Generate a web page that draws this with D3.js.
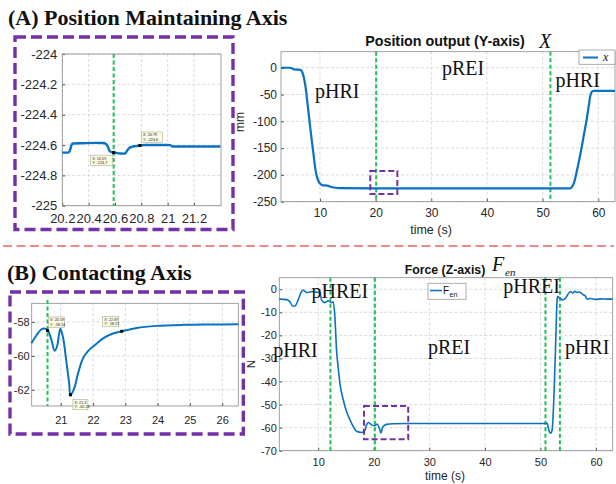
<!DOCTYPE html>
<html><head><meta charset="utf-8">
<script src="https://cdn.jsdelivr.net/npm/d3@7"></script>
<style>body{margin:0;background:#fff} svg{display:block}</style>
</head><body>
<svg id="c" width="616" height="484"></svg>
<script>
// ---------- data ----------
const sectionTitles = ["(A) Position Maintaining Axis", "(B) Contacting Axis"];

// Position output (Y-axis), main chart
const posTime  = [3, 4.4, 5.0, 5.3, 6.0, 6.5, 6.8, 7.1, 7.4, 7.8, 8.3, 8.8, 9.2, 9.5, 9.8, 10.1, 10.4, 11.3, 12.2, 13.4, 20, 30, 40, 50, 55.0, 55.3, 55.6, 56.2, 56.8, 57.4, 58.0, 58.3, 58.6, 58.9, 59.2, 61, 63];
const posValue = [0, 0, -1, -3, -3.5, -4, -7.5, -18, -35, -70, -116, -158, -191, -205, -213, -217, -219, -220, -223, -224.5, -225, -225, -225, -225, -225, -222, -216, -190, -160, -126, -91, -70, -51, -44, -43, -43, -43];
const posXTicks = [10, 20, 30, 40, 50, 60];
const posYTicks = [0, -50, -100, -150, -200, -250];
const posPhaseLines = [20.1, 51.4];
const posPhaseNames = ["pHRI", "pREI", "pHRI"];

// Position inset (zoom)
const posZoomTime  = [20.2, 20.246, 20.26, 20.27, 20.28, 20.35, 20.45, 20.51, 20.53, 20.545, 20.56, 20.58, 20.61, 20.64, 20.676, 20.69, 20.71, 20.727, 20.76, 20.79, 20.83, 20.9, 21.0, 21.02, 21.03, 21.05, 21.2, 21.4];
const posZoomValue = [-224.65, -224.65, -224.63, -224.6, -224.59, -224.588, -224.586, -224.587, -224.592, -224.61, -224.64, -224.648, -224.652, -224.656, -224.657, -224.64, -224.618, -224.612, -224.607, -224.603, -224.6, -224.6, -224.6, -224.601, -224.607, -224.61, -224.61, -224.61];
const posZoomXTicks = [20.2, 20.4, 20.6, 20.8, 21, 21.2];
const posZoomYTicks = [-224, -224.2, -224.4, -224.6, -224.8, -225];
const posZoomTips = [[20.59, -224.65, "X: 20.59", "Y: -224.7"], [20.79, -224.603, "X: 20.79", "Y: -224.6"]];

// Force (Z-axis), main chart
const forceTime  = [3, 4.3, 4.9, 5.4, 5.8, 6.4, 7.0, 7.3, 7.9, 8.5, 9.1, 9.7, 10.3, 10.6, 11.2, 11.8, 12.4, 12.7, 13.0, 13.3, 13.6, 13.9, 14.5, 15.1, 16.0, 16.9, 17.8, 18.4, 18.7, 19.0, 19.6, 20.2, 20.6, 21.0, 21.3, 21.6, 22.3, 23.5, 26, 30, 40, 50.9, 51.2, 51.5, 51.8, 52.1, 52.4, 52.7, 53.0, 53.1, 53.5, 53.9, 54.5, 55.0, 55.4, 55.8, 56.2, 56.6, 57.0, 57.4, 57.8, 58.1, 58.4, 59, 60, 61, 62, 63];
const forceValue = [-4.3, -4.5, -5.4, -7.3, -7.3, -4.6, -1, -0.3, -1.4, -1.2, -1, -1.3, -1.4, -4.6, -5.8, -5.0, -5.8, -5.4, -11.8, -26.3, -34, -40.7, -47.9, -53, -58, -61.6, -62.1, -61.2, -58.8, -57.8, -58.8, -59.2, -58.4, -60.3, -62.3, -59.8, -58.6, -58.3, -58.2, -58.2, -58.2, -58.2, -58.1, -61, -62.4, -61, -47.9, -26.3, -4.6, -3.2, -3.8, -4.6, -3.9, -2.0, -1.0, -1.6, -0.9, -1.4, -1.2, -1.8, -2.5, -3.0, -4.3, -4.0, -4.4, -4.2, -4.3, -4.3];
const forceXTicks = [10, 20, 30, 40, 50, 60];
const forceYTicks = [0, -10, -20, -30, -40, -50, -60, -70];
const forcePhaseLines = [12.2, 20.2, 50.9, 53.5];
const forcePhaseNames = ["pHREI", "pHRI", "pREI", "pHREI", "pHRI"];

// Force inset (zoom)
const forceZoomTime  = [20.09, 20.25, 20.40, 20.50, 20.6, 20.71, 20.81, 20.89, 20.95, 20.99, 21.07, 21.18, 21.26, 21.30, 21.4, 21.54, 21.69, 21.85, 22.06, 22.31, 22.62, 22.89, 23.35, 23.97, 24.8, 25.6, 26.5];
const forceZoomValue = [-59.26, -58.78, -58.43, -58.38, -58.5, -59.05, -59.7, -59.4, -58.68, -58.4, -58.9, -60.43, -61.6, -62.29, -62.0, -61.0, -60.14, -59.7, -59.36, -58.97, -58.68, -58.55, -58.35, -58.23, -58.17, -58.15, -58.14];
const forceZoomXTicks = [21, 22, 23, 24, 25, 26];
const forceZoomYTicks = [-58, -60, -62];
const forceZoomTips = [[20.59, -58.5, "X: 20.59", "Y: -58.54"], [21.3, -62.29, "X: 21.3", "Y: -62.28"], [22.89, -58.55, "X: 22.87", "Y: -58.57"]];

// ---------- styles ----------
const BLUE = "#0a72c0", GREEN = "#1fbf5a", PURPLE = "#7232a6", AX = "#262626";
const SANS = "'Liberation Sans', Arial, sans-serif", SERIF = "'Liberation Serif', 'Times New Roman', serif";
const svg = d3.select("#c");
svg.append("rect").attr("width", 616).attr("height", 484).attr("fill", "#fff");

function drawPanel(o) {
  const g = svg.append("g");
  const x = d3.scaleLinear().domain(o.xDomain).range([o.left, o.right]);
  const y = d3.scaleLinear().domain(o.yDomain).range([o.bottom, o.top]);
  g.append("rect").attr("x", o.left).attr("y", o.top).attr("width", o.right - o.left).attr("height", o.bottom - o.top).attr("fill", "#fff");
  const grid = g.append("g").attr("stroke", "#d2d2d2").attr("stroke-width", 0.8).attr("stroke-dasharray", "3,2");
  grid.selectAll("line.gx").data(o.xTicks).join("line").attr("class", "gx")
    .attr("x1", d => x(d)).attr("x2", d => x(d)).attr("y1", o.top).attr("y2", o.bottom);
  grid.selectAll("line.gy").data(o.yTicks).join("line").attr("class", "gy")
    .attr("y1", d => y(d)).attr("y2", d => y(d)).attr("x1", o.left).attr("x2", o.right);
  const fmt = d => String(d);
  const ax = g.append("g").attr("transform", `translate(0,${o.bottom})`)
    .call(d3.axisBottom(x).tickValues(o.xTicks).tickFormat(fmt).tickSizeInner(-3).tickSizeOuter(0).tickPadding(o.xPad));
  const ay = g.append("g").attr("transform", `translate(${o.left},0)`)
    .call(d3.axisLeft(y).tickValues(o.yTicks).tickFormat(fmt).tickSizeInner(-3).tickSizeOuter(0).tickPadding(o.yPad));
  [ax, ay].forEach(a => {
    a.select(".domain").remove();
    a.selectAll(".tick line").attr("stroke", "#555");
    a.selectAll("text").attr("fill", AX).attr("font-family", SANS).attr("font-size", o.fs);
  });
  g.append("rect").attr("x", o.left).attr("y", o.top).attr("width", o.right - o.left).attr("height", o.bottom - o.top)
    .attr("fill", "none").attr("stroke", "#8a8a8a").attr("stroke-width", 0.8);
  return {g, x, y};
}

function seriesLine(p, xs, ys, width, curve) {
  const data = xs.map((t, i) => [t, ys[i]]);
  p.g.append("path").datum(data)
    .attr("d", d3.line().x(d => p.x(d[0])).y(d => p.y(d[1])).curve(curve || d3.curveMonotoneX))
    .attr("fill", "none").attr("stroke", BLUE).attr("stroke-width", width).attr("stroke-linejoin", "round");
}
function greenLines(p, vals, y0, y1, w) {
  p.g.selectAll(null).data(vals).join("line")
    .attr("x1", d => p.x(d)).attr("x2", d => p.x(d)).attr("y1", y0).attr("y2", y1)
    .attr("stroke", GREEN).attr("stroke-width", w || 2).attr("stroke-dasharray", "4,2.5");
}
function phaseText(p, names, pos) {
  p.g.selectAll(null).data(names).join("text")
    .attr("x", (d, i) => p.x(pos[i][0])).attr("y", (d, i) => p.y(pos[i][1]))
    .attr("font-family", SERIF).attr("font-size", 20).attr("fill", "#111").text(d => d);
}
function tips(p, list, offs) {
  list.forEach((t, i) => {
    const px = p.x(t[0]), py = p.y(t[1]);
    const bx = px + offs[i][0], by = py + offs[i][1];
    p.g.append("rect").attr("x", bx).attr("y", by).attr("width", offs[i][2]).attr("height", 10.5)
      .attr("fill", "#fbfbe4").attr("stroke", "#9a9a80").attr("stroke-width", 0.5);
    p.g.append("text").attr("x", bx + 1.5).attr("y", by + 4.5).attr("font-family", SANS).attr("font-size", 3.8).attr("fill", "#222").text(t[2]);
    p.g.append("text").attr("x", bx + 1.5).attr("y", by + 9).attr("font-family", SANS).attr("font-size", 3.8).attr("fill", "#222").text(t[3]);
    p.g.append("rect").attr("x", px - 1.5).attr("y", py - 1.5).attr("width", 3).attr("height", 3).attr("fill", "#000");
  });
}
function purpleBox(x0, y0, x1, y1, w, dash) {
  svg.append("rect").attr("x", x0).attr("y", y0).attr("width", x1 - x0).attr("height", y1 - y0)
    .attr("fill", "none").attr("stroke", PURPLE).attr("stroke-width", w).attr("stroke-dasharray", dash);
}

// ---------- section titles ----------
svg.append("text").attr("x", 8).attr("y", 25).attr("font-family", SERIF).attr("font-weight", "bold").attr("font-size", 22).attr("fill", "#111").text(sectionTitles[0]);
svg.append("text").attr("x", 7).attr("y", 280).attr("font-family", SERIF).attr("font-weight", "bold").attr("font-size", 22).attr("fill", "#111").text(sectionTitles[1]);

// divider
svg.append("line").attr("x1", 3).attr("x2", 614).attr("y1", 246).attr("y2", 246)
  .attr("stroke", "#ee8a8a").attr("stroke-width", 2).attr("stroke-dasharray", "9,4.5");

// ---------- (A) main chart ----------
const pA = drawPanel({xDomain: [3, 63], yDomain: [-250, 30], left: 281, right: 615, top: 51.7, bottom: 201.7,
  xTicks: posXTicks, yTicks: posYTicks, xPad: 7, yPad: 4, fs: 12});
greenLines(pA, posPhaseLines, 51.7, 201.7, 2);
seriesLine(pA, posTime, posValue, 2.2);
phaseText(pA, posPhaseNames, [[9.1, -56.5], [31.9, -13.6], [52.3, -36]]);
pA.g.append("rect").attr("x", pA.x(19.04)).attr("y", pA.y(-192.7)).attr("width", pA.x(23.9) - pA.x(19.04)).attr("height", pA.y(-235.7) - pA.y(-192.7))
  .attr("fill", "none").attr("stroke", PURPLE).attr("stroke-width", 2).attr("stroke-dasharray", "6,3");
svg.append("text").attr("x", 445).attr("y", 46).attr("text-anchor", "middle").attr("font-family", SANS).attr("font-weight", "bold").attr("font-size", 14.3).attr("fill", "#111").text("Position output (Y-axis)");
svg.append("text").attr("x", 539).attr("y", 48).attr("font-family", SERIF).attr("font-style", "italic").attr("font-size", 20).attr("fill", "#111").text("X");
svg.append("text").attr("x", 431).attr("y", 234).attr("text-anchor", "middle").attr("font-family", SANS).attr("font-size", 12.5).attr("fill", AX).text("time (s)");
svg.append("text").attr("transform", "translate(244,122) rotate(-90)").attr("text-anchor", "middle").attr("font-family", SANS).attr("font-size", 12).attr("fill", AX).text("mm");
// legend
svg.append("rect").attr("x", 579).attr("y", 50).attr("width", 36).attr("height", 14.3).attr("fill", "#fff").attr("stroke", "#9a9a9a").attr("stroke-width", 0.8);
svg.append("line").attr("x1", 583).attr("x2", 598).attr("y1", 57.5).attr("y2", 57.5).attr("stroke", BLUE).attr("stroke-width", 2);
svg.append("text").attr("x", 603).attr("y", 61).attr("font-family", SERIF).attr("font-style", "italic").attr("font-size", 12).attr("fill", "#111").text("x");

// ---------- (A) inset ----------
const pAz = drawPanel({xDomain: [20.2, 21.405], yDomain: [-225, -224], left: 62.3, right: 221, top: 54, bottom: 205.7,
  xTicks: posZoomXTicks, yTicks: posZoomYTicks, xPad: 8, yPad: 5, fs: 13});
greenLines(pAz, [20.59], 54, 205.7, 2);
seriesLine(pAz, posZoomTime, posZoomValue, 2.4);
tips(pAz, posZoomTips, [[-23, 2.5, 22], [1.5, -13.5, 21]]);
purpleBox(15, 37, 233, 229.5, 3.4, "11,5");

// ---------- (B) main chart ----------
const pB = drawPanel({xDomain: [3, 63], yDomain: [-70, 5], left: 279.3, right: 612.7, top: 277.7, bottom: 450.7,
  xTicks: forceXTicks, yTicks: forceYTicks, xPad: 7.5, yPad: 2.5, fs: 11});
greenLines(pB, forcePhaseLines, 277.7, 450.7, 2);
seriesLine(pB, forceTime, forceValue, 1.6, d3.curveMonotoneX);
phaseText(pB, forcePhaseNames, [[8.8, -3.8], [1.9, -29.2], [29.75, -28], [43.3, -1.7], [54.4, -28]]);
pB.g.append("rect").attr("x", pB.x(18.25)).attr("y", pB.y(-50.6)).attr("width", pB.x(26.2) - pB.x(18.25)).attr("height", pB.y(-65) - pB.y(-50.6))
  .attr("fill", "none").attr("stroke", PURPLE).attr("stroke-width", 2).attr("stroke-dasharray", "6,3");
svg.append("text").attr("x", 445).attr("y", 273.5).attr("text-anchor", "middle").attr("font-family", SANS).attr("font-weight", "bold").attr("font-size", 12.3).attr("fill", "#111").text("Force (Z-axis)");
svg.append("text").attr("x", 492).attr("y", 271).attr("font-family", SERIF).attr("font-style", "italic").attr("font-size", 20).attr("fill", "#111").text("F");
svg.append("text").attr("x", 505).attr("y", 276).attr("font-family", SERIF).attr("font-style", "italic").attr("font-size", 11).attr("fill", "#111").text("en");
svg.append("text").attr("x", 445).attr("y", 480).attr("text-anchor", "middle").attr("font-family", SANS).attr("font-size", 12).attr("fill", AX).text("time (s)");
svg.append("text").attr("transform", "translate(255,364) rotate(-90)").attr("text-anchor", "middle").attr("font-family", SANS).attr("font-size", 11.5).attr("fill", AX).text("N");
// legend
svg.append("rect").attr("x", 428).attr("y", 283.3).attr("width", 38).attr("height", 16).attr("fill", "#fff").attr("stroke", "#9a9a9a").attr("stroke-width", 0.8);
svg.append("line").attr("x1", 430).attr("x2", 442).attr("y1", 290.5).attr("y2", 290.5).attr("stroke", BLUE).attr("stroke-width", 1.6);
svg.append("text").attr("x", 443).attr("y", 294).attr("font-family", SANS).attr("font-size", 10).attr("fill", "#111").text("F");
svg.append("text").attr("x", 449.5).attr("y", 297).attr("font-family", SANS).attr("font-size", 7).attr("fill", "#111").text("en");

// ---------- (B) inset ----------
const pBz = drawPanel({xDomain: [20.1, 26.5], yDomain: [-62.95, -56.9], left: 31.7, right: 238.3, top: 303.3, bottom: 406,
  xTicks: forceZoomXTicks, yTicks: forceZoomYTicks, xPad: 10, yPad: 2, fs: 11});
greenLines(pBz, [20.59], 300, 406, 2);
seriesLine(pBz, forceZoomTime, forceZoomValue, 2, d3.curveCatmullRom);
tips(pBz, forceZoomTips, [[1, -13.5, 16], [2.5, 4.5, 15], [-19, -15, 16]]);
purpleBox(10, 292, 243.3, 434, 3.4, "11,5");
</script>
</body></html>
